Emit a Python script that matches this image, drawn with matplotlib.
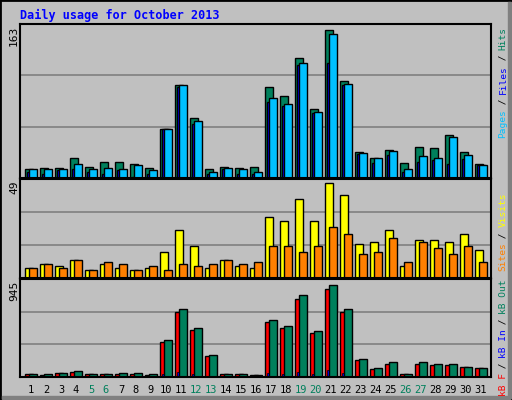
import numpy as np
import matplotlib.pyplot as plt
from matplotlib.patches import Rectangle

days = list(range(1, 32))
weekend = [5, 6, 12, 13, 19, 20, 26, 27]

hits = [10, 11, 11, 21, 12, 17, 17, 15, 11, 52, 98, 63, 9, 12, 11, 12,
        96, 87, 127, 73, 157, 103, 27, 21, 30, 16, 33, 32, 46, 28, 15]
files = [6, 4, 8, 9, 6, 4, 8, 1, 4, 52, 96, 57, 4, 9, 4, 4,
         80, 76, 120, 69, 122, 98, 25, 16, 24, 6, 17, 19, 15, 20, 14]
pages = [9, 9, 10, 15, 9, 11, 9, 14, 8, 52, 98, 60, 6, 11, 10, 6,
         85, 78, 122, 70, 152, 100, 26, 21, 29, 10, 23, 21, 43, 24, 14]
visits = [5, 7, 6, 9, 4, 7, 5, 4, 5, 13, 24, 16, 5, 9, 6, 5,
          30, 28, 39, 28, 47, 41, 17, 18, 24, 6, 19, 19, 18, 22, 14]
sites = [5, 7, 5, 9, 4, 8, 7, 4, 6, 4, 7, 6, 7, 9, 7, 8,
         16, 16, 13, 16, 25, 22, 12, 13, 20, 8, 18, 15, 12, 16, 8]
kb_f = [32, 23, 42, 52, 32, 32, 32, 32, 23, 335, 627, 452, 198, 32, 32, 23,
        530, 471, 754, 423, 852, 627, 160, 81, 130, 32, 130, 120, 120, 100, 91]
kb_in = [3, 3, 3, 3, 3, 3, 3, 3, 3, 32, 52, 32, 3, 3, 3, 3,
         42, 32, 52, 32, 72, 42, 3, 3, 3, 3, 3, 3, 3, 3, 3]
kb_out = [32, 32, 42, 62, 32, 32, 42, 42, 32, 355, 657, 471, 208, 32, 32, 23,
          550, 490, 793, 442, 891, 657, 169, 91, 140, 32, 140, 130, 130, 100, 91]

GREEN = "#00805C"
BG = "#C0C0C0"
MONO = "DejaVu Sans Mono"

fig = plt.figure(figsize=(5.12, 4.0), dpi=100, facecolor=BG)
W, H = 512, 400

def make_ax(y0, y1):
    ax = fig.add_axes([20 / W, 1 - y1 / H, (491 - 20) / W, (y1 - y0) / H])
    ax.set_facecolor(BG)
    for s in ax.spines.values():
        s.set_linewidth(1.5)
    ax.set_xlim(-0.333, 31.07)
    ax.set_xticks([])
    ax.set_yticks([])
    return ax

x = np.arange(31)
w = 8 / 15
kw = dict(width=w, align="edge", edgecolor="black", linewidth=1)

ax1 = make_ax(24, 178)
ax1.set_ylim(0, 163)
for g in (163 / 3, 163 * 2 / 3):
    ax1.axhline(g, color="#808080", lw=1.2, zorder=0)
ax1.bar(x, hits, color=GREEN, **kw)
ax1.bar(x + 2 / 15, files, color="#0000FF", **kw)
ax1.bar(x + 4 / 15, pages, color="#00C0FF", **kw)

ax2 = make_ax(179, 278)
ax2.set_ylim(0, 49)
for g in (49 / 3, 49 * 2 / 3):
    ax2.axhline(g, color="#808080", lw=1.2, zorder=0)
ax2.bar(x, visits, color="#FFFF00", **kw)
ax2.bar(x + 4 / 15, sites, color="#FF8000", **kw)

ax3 = make_ax(279, 377)
ax3.set_ylim(0, 945)
for g in (945 / 3, 945 * 2 / 3):
    ax3.axhline(g, color="#808080", lw=1.2, zorder=0)
ax3.bar(x, kb_f, color="#FF0000", **kw)
ax3.bar(x + 2 / 15, kb_in, color="#0000FF", width=3 / 15, align="edge",
        edgecolor="black", linewidth=0.5)
ax3.bar(x + 4 / 15, kb_out, color=GREEN, **kw)

for i, d in enumerate(days):
    ax3.text(i + 6 / 15, -0.08, str(d), transform=ax3.get_xaxis_transform(),
             ha="center", va="top", fontsize=7.5, family=MONO,
             color=GREEN if d in weekend else "black")

fig.text(20 / W, 1 - 15 / H, "Daily usage for October 2013", color="#0000FF",
         fontsize=8.5, family=MONO, fontweight="bold", va="center")

for label, ytop in (("163", 26), ("49", 181), ("945", 281)):
    fig.text(14 / W, 1 - ytop / H, label, rotation=90, ha="center", va="top",
             fontsize=8, family=MONO)

# right side legends, stacked bottom-to-top
CH = 5.5
def side_label(parts, ybottom):
    y = ybottom
    for txt, col in parts:
        fig.text(503 / W, 1 - y / H, txt, rotation=90, ha="center", va="bottom",
                 fontsize=6.8, family=MONO, color=col)
        y -= CH * len(txt)

side_label([("Pages", "#00C0FF"), (" / ", "black"), ("Files", "#0000FF"),
            (" / ", "black"), ("Hits", GREEN)], 138)
side_label([("Sites", "#FF8000"), (" / ", "black"), ("Visits", "#FFFF00")], 271)
side_label([("kB F", "#FF0000"), (" / ", "black"), ("kB In", "#0000FF"),
            (" / ", "black"), ("kB Out", GREEN)], 396)

fig.patches.append(Rectangle((0, 0), 1, 1, transform=fig.transFigure,
                             fill=False, edgecolor="black", lw=2))
fig.patches.append(Rectangle((508 / W, 2 / H), 3 / W, 1 - 4 / H,
                             transform=fig.transFigure, color="#808080"))
fig.patches.append(Rectangle((2 / W, 1 / H), 1 - 4 / W, 3 / H,
                             transform=fig.transFigure, color="#808080"))

fig.savefig("out.png", dpi=100, facecolor=BG)
